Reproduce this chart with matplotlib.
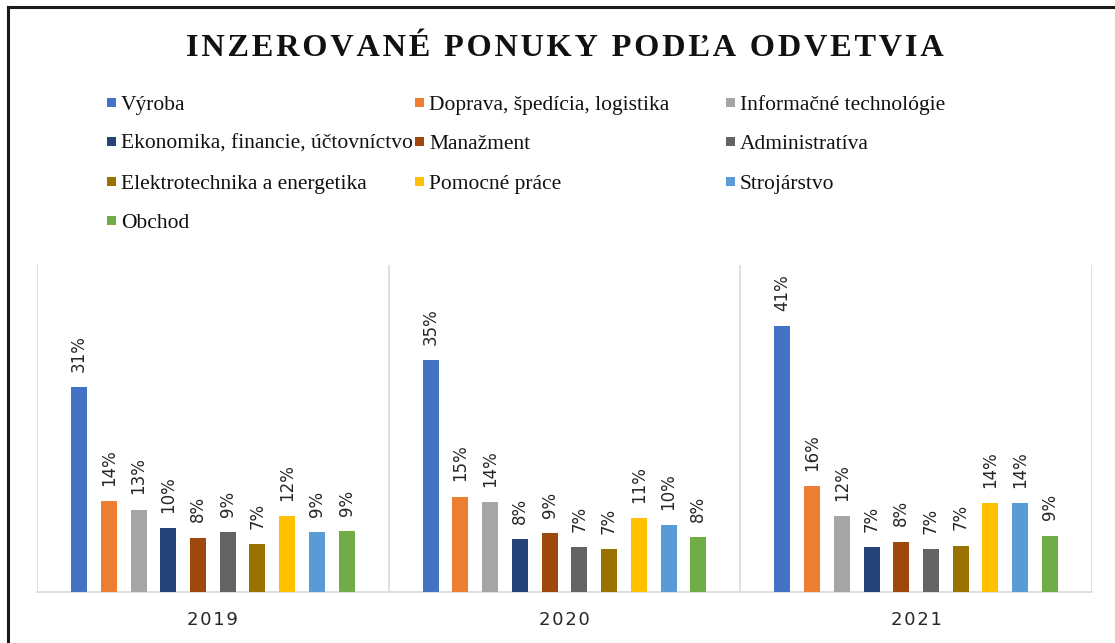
import numpy as np
import matplotlib.pyplot as plt
from matplotlib.patches import Rectangle
from matplotlib.lines import Line2D

# Data
years = ["2019", "2020", "2021"]
sectors = ["Výroba", "Doprava, špedícia, logistika", "Informačné technológie",
           "Ekonomika, financie, účtovníctvo", "Manažment", "Administratíva",
           "Elektrotechnika a energetika", "Pomocné práce", "Strojárstvo", "Obchod"]
colors = ["#4472C4", "#ED7D31", "#A5A5A5", "#264478", "#9E480E",
          "#636363", "#997300", "#FFC000", "#5B9BD5", "#70AD47"]
share_2019 = [31.3, 13.9, 12.6, 9.8, 8.3, 9.2, 7.3, 11.6, 9.1, 9.3]
share_2020 = [35.4, 14.6, 13.7, 8.1, 9.0, 6.9, 6.6, 11.3, 10.2, 8.4]
share_2021 = [40.6, 16.2, 11.6, 6.9, 7.7, 6.6, 7.1, 13.6, 13.6, 8.6]

values = np.array([share_2019, share_2020, share_2021])  # years x sectors

W, H = 1115, 643
fig = plt.figure(figsize=(W / 100, H / 100), dpi=100)

# frame (only top/left visible in the crop)
fig.add_artist(Line2D([8 / W, 8 / W], [0, 1 - 7 / H], transform=fig.transFigure,
                      color="#1a1a1a", lw=2.2))
fig.add_artist(Line2D([8 / W, 1], [1 - 7 / H, 1 - 7 / H], transform=fig.transFigure,
                      color="#1a1a1a", lw=2.2))

# title, letter-spaced with hair spaces
title = "INZEROVANÉ PONUKY PODĽA ODVETVIA"
fig.text(565 / W, 1 - 49 / H, "\u200a".join(title),
         ha="center", va="center", fontsize=23.3, fontweight="bold",
         family=["Liberation Serif", "DejaVu Serif"], color="#111111")

# legend, drawn by hand so the three columns are evenly spaced
col_x = [107, 415, 726]
row_y = [102, 141, 181, 220]
for i, (name, c) in enumerate(zip(sectors, colors)):
    r, k = divmod(i, 3)
    x0 = col_x[k]
    y0 = row_y[r]
    fig.add_artist(Rectangle((x0 / W, 1 - (y0 + 4.5) / H), 9 / W, 9 / H,
                             transform=fig.transFigure, facecolor=c, edgecolor="none"))
    fig.text((x0 + 14) / W, 1 - (y0 + 8) / H, name, ha="left", va="baseline",
             fontsize=15.5, family="Liberation Serif", color="#111111")

# plot area
left, right, bottom, top = 37, 1092, 592, 265
ax = fig.add_axes([left / W, 1 - bottom / H, (right - left) / W, (bottom - top) / H])

n = len(sectors)
pitch = 0.0845
width = 0.0455
x = np.arange(len(years))
for j in range(n):
    pos = x + (j - (n - 1) / 2) * pitch
    bars = ax.bar(pos, values[:, j], width=width, color=colors[j], zorder=3)
    for b, v in zip(bars, values[:, j]):
        ax.annotate(f"{round(v)}%", (b.get_x() + b.get_width() / 2, v),
                    xytext=(0, 11), textcoords="offset points",
                    rotation=90, ha="center", va="bottom",
                    fontsize=12, color="#262626")

ax.set_xlim(-0.5, len(years) - 0.5)
ax.set_ylim(0, 50)
ax.set_yticks([])
ax.set_xticks(x)
ax.set_xticklabels(["\u200a".join(y) for y in years], fontsize=13, color="#262626")
ax.tick_params(axis="x", length=0, pad=14)
for s in ["top", "left", "right"]:
    ax.spines[s].set_visible(False)
ax.spines["bottom"].set_color("#d9d9d9")
ax.spines["bottom"].set_linewidth(1.2)
for xb in np.arange(-0.5, len(years), 1.0):
    ax.axvline(xb, color="#d9d9d9", lw=1.2, zorder=1)

fig.savefig("out.png", dpi=100)
